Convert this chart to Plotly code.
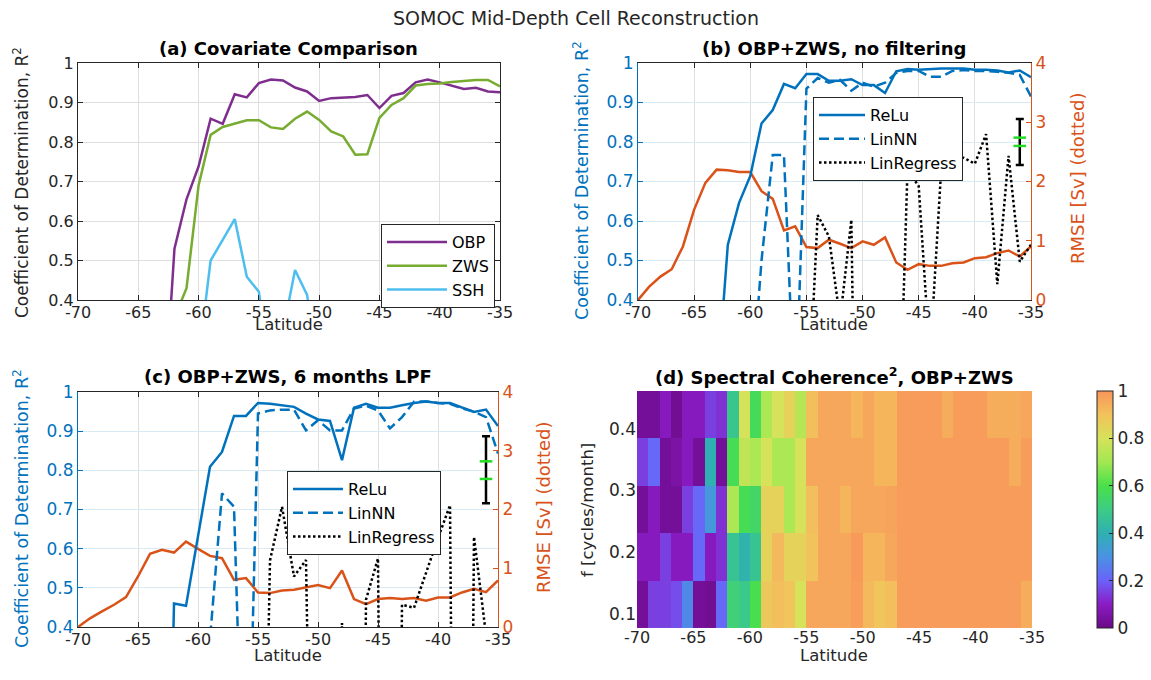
import plotly.graph_objects as go

# ---------------- data ----------------
LAT = [-70, -69, -68, -67, -66, -65, -64, -63, -62, -61, -60, -59, -58, -57, -56, -55, -54, -53,
       -52, -51, -50, -49, -48, -47, -46, -45, -44, -43, -42, -41, -40, -39, -38, -37, -36, -35]

# (a) covariate comparison, R^2
OBP = [None, None, None, None, None, None, None, 0.05, 0.53, 0.655, 0.738, 0.859, 0.846, 0.921, 0.913, 0.949, 0.958, 0.956,
       0.938, 0.928, 0.904, 0.911, 0.912, 0.914, 0.919, 0.886, 0.917, 0.924, 0.951, 0.958, 0.951, 0.943, 0.934, 0.937, 0.928, 0.926]
ZWS = [None, None, None, None, None, None, None, None, 0.355, 0.43, 0.69, 0.818, 0.838, 0.846, 0.855, 0.855, 0.837, 0.833,
       0.859, 0.877, 0.856, 0.827, 0.814, 0.768, 0.769, 0.861, 0.894, 0.911, 0.943, 0.947, 0.948, 0.952, 0.954, 0.957, 0.957, 0.941]
SSH = [None, None, None, None, None, None, None, None, None, None, 0.25, 0.50, 0.552, 0.605, 0.459, 0.421, 0.2, 0.32,
       0.476, 0.413, 0.2, None, None, None, None, None, None, None, None, None, None, None, None, None, None, None]

# (b) OBP+ZWS, no filtering
RELU_B = [None, None, None, None, None, None, None, 0.16, 0.54, 0.646, 0.714, 0.847, 0.881, 0.947, 0.936, 0.972, 0.972, 0.955,
          0.955, 0.959, 0.944, 0.944, 0.924, 0.979, 0.985, 0.983, 0.985, 0.986, 0.986, 0.986, 0.983, 0.983, 0.981, 0.976, 0.981, 0.964]
LINNN_B = [None, None, None, None, None, None, None, None, None, None, 0.12, 0.50, 0.767, 0.767, 0.1, 0.935, 0.962, 0.95,
           0.957, 0.93, 0.95, 0.94, 0.95, 0.975, 0.98, 0.98, 0.965, 0.965, 0.98, 0.982, 0.98, 0.98, 0.978, 0.975, 0.97, 0.915]
LINREG_B = [None, None, None, None, None, None, None, None, None, None, None, None, None, None, None, 0.02, 0.615, 0.561,
            0.35, 0.603, -5.0, -5.0, -5.0, -0.2, 0.73, 0.688, 0.25, 0.73, 0.76, 0.76, 0.745, 0.82, 0.44, 0.765, 0.497, 0.54]
RMSE_B = [0.0, 0.226, 0.395, 0.52, 0.904, 1.525, 1.977, 2.20, 2.19, 2.16, 2.16, 1.836, 1.706, 1.175, 1.243, 0.893, 0.876, 1.017,
          0.949, 0.876, 0.989, 0.932, 1.056, 0.633, 0.508, 0.605, 0.576, 0.576, 0.621, 0.633, 0.706, 0.723, 0.791, 0.836, 0.734, 0.904]

# (c) OBP+ZWS, 6 months LPF
RELU_C = [None, None, None, None, None, None, None, -1.0, 0.46, 0.454, 0.631, 0.809, 0.847, 0.939, 0.939, 0.972, 0.970, 0.966,
          0.962, 0.945, 0.93, 0.926, 0.826, 0.96, 0.97, 0.96, 0.96, 0.966, 0.972, 0.976, 0.972, 0.972, 0.96, 0.949, 0.955, 0.913]
LINNN_C = [None, None, None, None, None, None, None, None, None, None, -1.0, 0.37, 0.741, 0.707, -0.3, 0.945, 0.953, 0.955,
           0.955, 0.902, 0.928, 0.902, 0.902, 0.958, 0.965, 0.953, 0.907, 0.936, 0.975, 0.976, 0.972, 0.97, 0.958, 0.95, 0.936, 0.843]
LINREG_C = [None, None, None, None, None, None, None, None, None, None, None, None, None, None, None, -1.0, 0.57, 0.707,
            0.529, 0.571, -3.0, -3.0, 0.41, -3.0, 0.47, 0.575, -3.0, 0.457, 0.449, 0.54, 0.627, 0.711, -3.0, 0.63, 0.38, -1.0]
RMSE_C = [0.0, 0.147, 0.266, 0.379, 0.509, 0.86, 1.245, 1.313, 1.267, 1.454, 1.33, 1.21, 1.171, 0.803, 0.832, 0.588, 0.577, 0.622,
          0.634, 0.673, 0.713, 0.662, 0.962, 0.475, 0.39, 0.475, 0.492, 0.475, 0.492, 0.447, 0.503, 0.503, 0.588, 0.65, 0.594, 0.792]

# error bars (R^2 spread) with green marks
ERR_LAT = -36
ERR_B_CENTER, ERR_B_HALF, GREEN_B = 0.80, 0.058, [0.811, 0.790]
ERR_C_CENTER, ERR_C_HALF, GREEN_C = 0.8015, 0.0855, [0.823, 0.778]

# (d) spectral coherence^2
LAT_CELLS = [-69.5, -68.5, -67.5, -66.5, -65.5, -64.5, -63.5, -62.5, -61.5, -60.5, -59.5, -58.5, -57.5, -56.5, -55.5,
             -54.5, -53.5, -52.5, -51.5, -50.5, -49.5, -48.5, -47.5, -46.5, -45.5, -44.5, -43.5, -42.5, -41.5, -40.5,
             -39.5, -38.5, -37.5, -36.5, -35.5]
FREQ = [0.1154, 0.1923, 0.2692, 0.3462, 0.4231]
COH_F1 = [0.03, 0.15, 0.15, 0.17, 0.28, 0.03, 0.02, 0.21, 0.52, 0.49, 0.59, 0.88, 0.91, 0.89, 0.80, 0.96, 0.96, 0.96,
          0.96, 0.98, 0.92, 0.89, 0.91, 0.985, 0.985, 0.985, 0.985, 0.985, 0.985, 0.985, 0.985, 0.985, 0.985, 0.985, 0.95]
COH_F2 = [0.09, 0.09, 0.15, 0.09, 0.09, 0.21, 0.09, 0.13, 0.47, 0.41, 0.47, 0.85, 0.92, 0.85, 0.85, 0.90, 0.96, 0.96,
          0.96, 0.99, 0.93, 0.93, 0.96, 0.985, 0.985, 0.985, 0.985, 0.985, 0.985, 0.985, 0.985, 0.985, 0.985, 0.985, 0.985]
COH_F3 = [0.03, 0.09, 0.03, 0.03, 0.15, 0.21, 0.32, 0.13, 0.72, 0.58, 0.55, 0.85, 0.85, 0.72, 0.80, 0.91, 0.96, 0.96,
          0.93, 0.96, 0.96, 0.96, 0.97, 0.985, 0.985, 0.985, 0.985, 0.985, 0.985, 0.985, 0.985, 0.985, 0.985, 0.985, 0.985]
COH_F4 = [0.15, 0.21, 0.03, 0.05, 0.09, 0.03, 0.40, 0.03, 0.58, 0.76, 0.72, 0.80, 0.72, 0.72, 0.80, 0.96, 0.96, 0.96,
          0.96, 0.96, 0.96, 0.93, 0.93, 0.985, 0.985, 0.985, 0.985, 0.985, 0.985, 0.985, 0.985, 0.985, 0.985, 0.95, 0.985]
COH_F5 = [0.03, 0.03, 0.09, 0.02, 0.09, 0.09, 0.15, 0.13, 0.48, 0.80, 0.57, 0.72, 0.80, 0.85, 0.74, 0.91, 0.96, 0.96,
          0.96, 0.93, 0.96, 0.93, 0.93, 0.985, 0.985, 0.985, 0.985, 0.95, 0.985, 0.985, 0.985, 0.95, 0.95, 0.95, 0.96]

X_TICKS = [-70, -65, -60, -55, -50, -45, -40, -35]
X_LABELS = ["-70", "-65", "-60", "-55", "-50", "-45", "-40", "-35"]
R2_TICKS = [0.4, 0.5, 0.6, 0.7, 0.8, 0.9, 1.0]
R2_LABELS = ["0.4", "0.5", "0.6", "0.7", "0.8", "0.9", "1"]
RMSE_TICKS = [0, 1, 2, 3, 4]
F_TICKS = [0.1, 0.2, 0.3, 0.4]
CB_TICKS = [0, 0.2, 0.4, 0.6, 0.8, 1]
CB_LABELS = ["0", "0.2", "0.4", "0.6", "0.8", "1"]

# ---------------- style ----------------
FONT = "DejaVu Sans"
DARK = "#262626"
BLUE = "#0072BD"
RED = "#D95319"
PURPLE = "#7E2F8E"
GREEN = "#77AC30"
CYAN = "#4DBEEE"
GRID = "#dfdfdf"
BLUEGRID = "#d9eaf5"
W, H = 1151, 680
LW = 2.5

def px_x(p):
    return p / W

def px_y(p):
    return 1 - p / H

fig = go.Figure()

def line(x, y, color, name, xa, ya, dash=None, legend=None, show=False):
    fig.add_trace(go.Scatter(
        x=x, y=y, mode="lines", name=name, xaxis=xa, yaxis=ya,
        line=dict(color=color, width=LW, dash=dash), showlegend=show,
        legend=legend, hoverinfo="skip", connectgaps=False))

# panel a
line(LAT, OBP, PURPLE, "OBP", "x", "y", legend="legend", show=True)
line(LAT, ZWS, GREEN, "ZWS", "x", "y", legend="legend", show=True)
line(LAT, SSH, CYAN, "SSH", "x", "y", legend="legend", show=True)

DASH = "10px,5px"
DOT = "2.5px,2.5px"

# panel b (y2 = RMSE base axis on the right, y3 = R^2 overlay on the left)
line(LAT, RMSE_B, RED, "RMSE", "x2", "y2")
line(LAT, RELU_B, BLUE, "ReLu", "x2", "y3", legend="legend2", show=True)
line(LAT, LINNN_B, BLUE, "LinNN", "x2", "y3", dash=DASH, legend="legend2", show=True)
line(LAT, LINREG_B, "black", "LinRegress", "x2", "y3", dash=DOT, legend="legend2", show=True)

# panel c (y4 = RMSE base, y5 = R^2 overlay)
line(LAT, RMSE_C, RED, "RMSE", "x3", "y4")
line(LAT, RELU_C, BLUE, "ReLu", "x3", "y5", legend="legend3", show=True)
line(LAT, LINNN_C, BLUE, "LinNN", "x3", "y5", dash=DASH, legend="legend3", show=True)
line(LAT, LINREG_C, "black", "LinRegress", "x3", "y5", dash=DOT, legend="legend3", show=True)

# error bars
for xa, ya, c, h, g in [("x2", "y3", ERR_B_CENTER, ERR_B_HALF, GREEN_B),
                        ("x3", "y5", ERR_C_CENTER, ERR_C_HALF, GREEN_C)]:
    fig.add_trace(go.Scatter(
        x=[ERR_LAT], y=[c], mode="markers", xaxis=xa, yaxis=ya, showlegend=False,
        marker=dict(size=2, color="rgba(0,0,0,0)"), hoverinfo="skip",
        error_y=dict(type="data", array=[h], color="black", thickness=2.5, width=4)))
    fig.add_trace(go.Scatter(
        x=[ERR_LAT] * len(g), y=g, mode="markers", xaxis=xa, yaxis=ya, showlegend=False,
        marker=dict(symbol="line-ew", size=9, line=dict(color="#22dd22", width=2.5)),
        hoverinfo="skip"))

# panel d heatmap
COLORSCALE = [[0.0, "#6b0a86"], [0.1, "#8a1cc4"], [0.2, "#6a62fa"], [0.3, "#4a92e4"], [0.4, "#2fb0b2"],
              [0.5, "#3ccc84"], [0.6, "#4ae04a"], [0.7, "#a2e852"], [0.8, "#d6e25a"], [0.9, "#f2c25c"],
              [1.0, "#f8955a"]]
fig.add_trace(go.Heatmap(
    x=LAT_CELLS, y=FREQ, z=[COH_F1, COH_F2, COH_F3, COH_F4, COH_F5],
    zmin=0, zmax=1, colorscale=COLORSCALE, xaxis="x4", yaxis="y6", hoverinfo="skip",
    colorbar=dict(x=px_x(1097), xanchor="left", y=px_y(509.5), yanchor="middle",
                  len=(628 - 391) / H, lenmode="fraction", thickness=16, thicknessmode="pixels",
                  xpad=0, ypad=0,
                  outlinecolor=DARK, outlinewidth=1, ticks="inside", ticklen=4, tickcolor=DARK,
                  tickvals=CB_TICKS, ticktext=CB_LABELS,
                  tickfont=dict(family=FONT, size=17, color=DARK))))

# ---------------- axes ----------------
def xax(domain, anchor, grid=True, box=True):
    return dict(domain=domain, anchor=anchor, range=[-70, -35], tickvals=X_TICKS, ticktext=X_LABELS,
                automargin=False, ticklabelstandoff=-2,
                ticks="inside" if box else "", ticklen=5, tickcolor=DARK,
                showline=box, linecolor=DARK, linewidth=1, mirror="ticks" if box else False,
                showgrid=grid, gridcolor=GRID, gridwidth=1, zeroline=False,
                tickfont=dict(family=FONT, size=16, color=DARK))

def r2ax(color, grid, size=16, mirror="ticks", domain=None, anchor=None, overlay=None):
    d = dict(range=[0.4, 1.0], tickvals=R2_TICKS, ticktext=R2_LABELS, automargin=False, side="left",
             ticks="inside", ticklen=5, tickcolor=color, showline=True, linecolor=color, linewidth=1,
             mirror=mirror, showgrid=True, gridcolor=grid, gridwidth=1, zeroline=False,
             tickfont=dict(family=FONT, size=size, color=color))
    if domain is not None:
        d["domain"] = domain
    if anchor is not None:
        d["anchor"] = anchor
    if overlay is not None:
        d["overlaying"] = overlay
    return d

def rmseax(domain, anchor):
    return dict(domain=domain, anchor=anchor, side="right", range=[0, 4], tickvals=RMSE_TICKS,
                automargin=False,
                ticks="inside", ticklen=5, tickcolor=RED, showline=True, linecolor=RED, linewidth=1,
                showgrid=False, zeroline=False, tickfont=dict(family=FONT, size=17, color=RED))

XA = [px_x(78), px_x(500)]
XB = [px_x(638), px_x(1031)]
XC = [px_x(78), px_x(498)]
XD = [px_x(637), px_x(1032)]
YTOP = [px_y(300), px_y(63)]
YBOT = [px_y(627), px_y(392)]
YD = [px_y(628), px_y(391)]

layout = dict(
    width=W, height=H, margin=dict(l=0, r=0, t=0, b=0, pad=0, autoexpand=False),
    paper_bgcolor="white", plot_bgcolor="white",
    font=dict(family=FONT, color=DARK, size=15),
    xaxis=xax(XA, "y"),
    yaxis=r2ax(DARK, GRID, domain=YTOP, anchor="x"),
    xaxis2=xax(XB, "y2"),
    yaxis2=rmseax(YTOP, "x2"),
    yaxis3=r2ax(BLUE, BLUEGRID, size=17, mirror=False, anchor="x2", overlay="y2"),
    xaxis3=xax(XC, "y4"),
    yaxis4=rmseax(YBOT, "x3"),
    yaxis5=r2ax(BLUE, BLUEGRID, size=17, mirror=False, anchor="x3", overlay="y4"),
    xaxis4=xax(XD, "y6", grid=False, box=False),
    yaxis6=dict(domain=YD, anchor="x4", range=[0.0769, 0.4615], tickvals=F_TICKS, ticks="",
                showgrid=False, zeroline=False, showline=False, automargin=False,
                tickfont=dict(family=FONT, size=17, color=DARK)),
)

legend_style = dict(bgcolor="white", bordercolor=DARK, borderwidth=1, xanchor="left", yanchor="top",
                    font=dict(family=FONT, size=16, color="black"), tracegroupgap=0)
layout["legend"] = dict(x=px_x(381), y=px_y(224), itemwidth=60, **legend_style)
layout["legend2"] = dict(x=px_x(813), y=px_y(97), itemwidth=46, **legend_style)
layout["legend3"] = dict(x=px_x(287), y=px_y(471), itemwidth=50, **legend_style)

ann = []
def text(t, x, y, size=15, color=DARK, angle=0):
    ann.append(dict(text=t, x=x, y=y, xref="paper", yref="paper", showarrow=False,
                    xanchor="center", yanchor="middle", textangle=angle,
                    font=dict(family=FONT, size=size, color=color)))

text("SOMOC Mid-Depth Cell Reconstruction", 0.5, px_y(18), size=19)
text("<b>(a) Covariate Comparison</b>", px_x(289), px_y(49), size=18, color="black")
text("<b>(b) OBP+ZWS, no filtering</b>", px_x(834), px_y(49), size=18, color="black")
text("<b>(c) OBP+ZWS, 6 months LPF</b>", px_x(288), px_y(376), size=18, color="black")
text("<b>(d) Spectral Coherence<sup>2</sup>, OBP+ZWS</b>", px_x(834), px_y(376), size=18, color="black")
for xc, yc in [(289, 324), (834, 324), (288, 655), (834, 655)]:
    text("Latitude", px_x(xc), px_y(yc), size=16.5)
text("Coefficient of Determination, R<sup>2</sup>", px_x(21), px_y(183), size=17, angle=-90)
text("Coefficient of Determination, R<sup>2</sup>", px_x(581), px_y(181), size=17.5, color=BLUE, angle=-90)
text("RMSE [Sv] (dotted)", px_x(1078), px_y(178), size=18, color=RED, angle=-90)
text("Coefficient of Determination, R<sup>2</sup>", px_x(21), px_y(509), size=17.5, color=BLUE, angle=-90)
text("RMSE [Sv] (dotted)", px_x(543), px_y(507), size=18, color=RED, angle=-90)
text("f [cycles/month]", px_x(587), px_y(510), size=16.5, angle=-90)
layout["annotations"] = ann

fig.update_layout(**layout)
fig.write_html("out.html", config={"displayModeBar": False},
               post_script="document.body.style.margin='0px';")
